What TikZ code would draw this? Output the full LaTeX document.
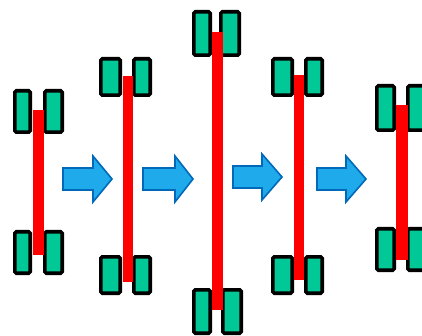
\documentclass[tikz,border=0pt]{standalone}
\definecolor{wheelgreen}{RGB}{0,200,150}
\definecolor{barred}{RGB}{255,0,0}
\definecolor{arrowfill}{RGB}{30,170,235}
\definecolor{arrowline}{RGB}{0,105,185}
\newcommand\flowarrow[4]{%
  \draw[flow] (#1,#4-11) -- (#2,#4-11) -- (#2,#4-23) -- (#3,#4) -- (#2,#4+23) -- (#2,#4+11) -- (#1,#4+11) -- cycle;}
\begin{document}
\begin{tikzpicture}[x=1pt,y=-1pt,
  wheel/.style={draw=black, line width=3.6pt, fill=wheelgreen, rounded corners=1.5pt},
  axle/.style={draw=none, fill=barred},
  flow/.style={fill=arrowfill, draw=arrowline, line width=1.6pt, line join=miter}]
\useasboundingbox (0,0) rectangle (422,336);
\clip (0,0) rectangle (422,336);
% figure 1
\draw[wheel] (14.8,90.8) rectangle (30.2,132.2);
\draw[wheel] (44.8,90.8) rectangle (62.2,132.2);
\draw[wheel] (14.8,231.8) rectangle (30.2,273.2);
\draw[wheel] (44.8,231.8) rectangle (62.2,273.2);
\fill[axle] (33,110) rectangle (44,255);
% figure 2
\draw[wheel] (100.8,58.8) rectangle (120.2,95.2);
\draw[wheel] (133.8,58.8) rectangle (150.2,95.2);
\draw[wheel] (100.8,256.8) rectangle (120.2,293.2);
\draw[wheel] (133.8,256.8) rectangle (150.2,293.2);
\fill[axle] (123,76) rectangle (133,282);
% figure 3
\draw[wheel] (193.8,11.8) rectangle (210.2,55.2);
\draw[wheel] (220.8,11.8) rectangle (239.2,55.2);
\draw[wheel] (193.8,289.8) rectangle (210.2,333.2);
\draw[wheel] (222.8,289.8) rectangle (241.2,333.2);
\fill[axle] (212,32) rectangle (223,310);
% figure 4
\draw[wheel] (272.8,58.8) rectangle (292.2,95.2);
\draw[wheel] (305.8,58.8) rectangle (322.2,95.2);
\draw[wheel] (272.8,256.8) rectangle (292.2,293.2);
\draw[wheel] (305.8,256.8) rectangle (322.2,293.2);
\fill[axle] (294,75) rectangle (304,280);
% figure 5
\draw[wheel] (376.8,85.8) rectangle (394.2,130.2);
\draw[wheel] (407.8,85.8) rectangle (425.2,130.2);
\draw[wheel] (376.8,228.8) rectangle (394.2,270.2);
\draw[wheel] (407.8,228.8) rectangle (425.2,270.2);
\fill[axle] (396,105) rectangle (408,260);
% arrows
\flowarrow{63}{93}{112}{179}
\flowarrow{143}{175}{193}{179}
\flowarrow{233}{262}{282}{177}
\flowarrow{317}{346}{366}{179}
\end{tikzpicture}
\end{document}
